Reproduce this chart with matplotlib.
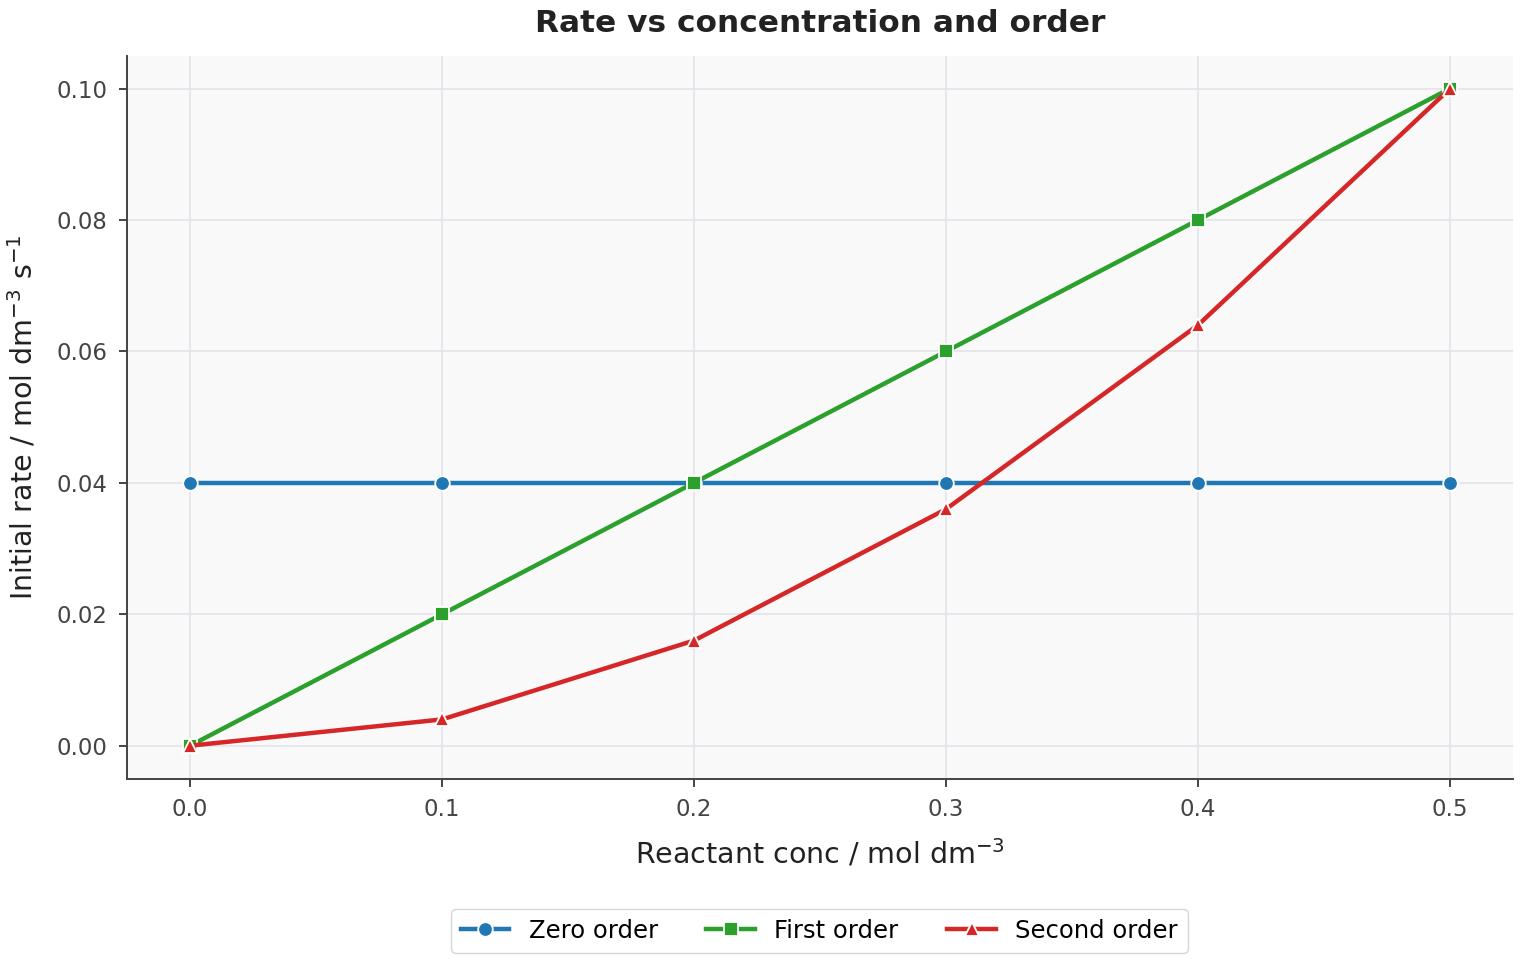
import matplotlib
matplotlib.use("Agg")
from matplotlib import pyplot as plt

conc = [0.0, 0.1, 0.2, 0.3, 0.4, 0.5]
zero_order = [0.04, 0.04, 0.04, 0.04, 0.04, 0.04]
first_order = [0.0, 0.02, 0.04, 0.06, 0.08, 0.10]
second_order = [0.0, 0.004, 0.016, 0.036, 0.064, 0.10]

series = [
    ("Zero order", zero_order, "#1f77b4", "o"),
    ("First order", first_order, "#2ca02c", "s"),
    ("Second order", second_order, "#d62728", "^"),
]


def main():
    fig = plt.figure(figsize=(15.2, 9.6), dpi=100)
    ax = fig.add_axes([0.0836, 0.189, 0.9118, 0.753])
    ax.set_facecolor("#f9f9f9")

    for name, vals, col, mk in series:
        ax.plot(conc, vals, color=col, marker=mk, lw=3.2, ms=10.5,
                markeredgecolor="white", markeredgewidth=1.3, label=name)

    ax.grid(True, color="#e3e3ea", lw=1.2)
    ax.set_axisbelow(True)
    for s in ["top", "right"]:
        ax.spines[s].set_visible(False)
    for s in ["left", "bottom"]:
        ax.spines[s].set_color("#444444")
        ax.spines[s].set_linewidth(1.4)

    ax.set_xticks(conc)
    ax.set_yticks([0.0, 0.02, 0.04, 0.06, 0.08, 0.10])
    ax.set_xticklabels(["0.0", "0.1", "0.2", "0.3", "0.4", "0.5"])
    ax.set_yticklabels(["0.00", "0.02", "0.04", "0.06", "0.08", "0.10"])
    ax.tick_params(labelsize=16.5, colors="#444444", length=6, width=1.4, pad=8)
    ax.set_xlim(-0.025, 0.525)
    ax.set_ylim(-0.005, 0.105)

    ax.set_xlabel("Reactant conc / mol dm$^{-3}$", fontsize=20.5, color="#222222", labelpad=12)
    ax.set_ylabel("Initial rate / mol dm$^{-3}$ s$^{-1}$", fontsize=20.5, color="#222222", labelpad=13)
    ax.set_title("Rate vs concentration and order", fontsize=22.5, fontweight="bold",
                 color="#222222", pad=17)

    leg = fig.legend(loc="lower center", bbox_to_anchor=(0.539, -0.005), ncol=3,
                     fontsize=17.5, frameon=True)
    leg.get_frame().set_edgecolor("#cccccc")

    fig.savefig("out.png", dpi=100)


if __name__ == "__main__":
    main()
